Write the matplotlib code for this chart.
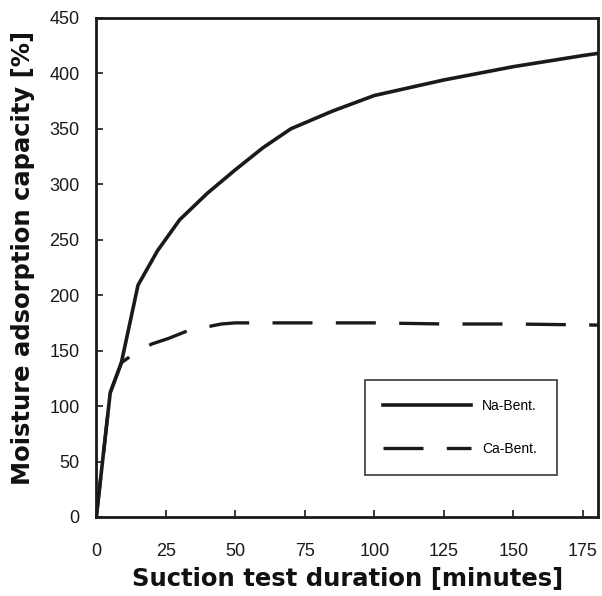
import matplotlib
matplotlib.use("Agg")
import matplotlib.pyplot as plt

plt.rcParams['font.family'] = ['Liberation Sans', 'DejaVu Sans']

na_x = [0, 5, 9, 15, 22, 30, 40, 50, 60, 70, 85, 100, 125, 150, 175, 180.5]
na_y = [0, 112, 139, 209, 240, 268, 292, 313, 333, 350, 366, 380, 394, 406, 416, 418]

ca_x = [0, 5, 9, 14.5, 20, 26, 33, 39, 45, 50, 75, 100, 125, 150, 180.5]
ca_y = [0, 112, 139, 149, 156, 161, 168, 171, 174, 175, 175, 175, 174, 174, 173]

xticks = [0, 25, 50, 75, 100, 125, 150, 175]
yticks = [0, 50, 100, 150, 200, 250, 300, 350, 400, 450]

fig = plt.figure(figsize=(6.02, 5.96), dpi=100)
ax = fig.add_axes([0.160, 0.1326, 0.8334, 0.8374])

ax.plot(ca_x, ca_y, color='#1a1a1a', lw=2.4, dashes=(12, 7), label='Ca-Bent.')
ax.plot(na_x, na_y, color='#1a1a1a', lw=2.6, label='Na-Bent.')

ax.set_xlim(0, 180.5)
ax.set_ylim(0, 450)
ax.set_xticks(xticks)
ax.set_yticks(yticks)
ax.tick_params(direction='in', length=5, width=1.2, labelsize=13, colors='#1a1a1a')
ax.tick_params(axis='x', pad=19)
ax.tick_params(axis='y', pad=12)
for s in ax.spines.values():
    s.set_linewidth(2.0)
    s.set_color('#1a1a1a')

ax.set_xlabel('Suction test duration [minutes]', labelpad=5, family=['DejaVu Sans'],
              fontsize=17.5, fontweight='bold', color='#111111')
ax.set_ylabel('Moisture adsorption capacity [%]', family=['DejaVu Sans'],
              fontsize=17.5, fontweight='bold', color='#111111')
ax.yaxis.set_label_coords(-0.123, 0.52)

h, l = ax.get_legend_handles_labels()
leg = ax.legend([h[1], h[0]], [l[1], l[0]], loc='upper left',
                bbox_to_anchor=(0.535, 0.2745, 0.383, 0.0), mode='expand',
                borderaxespad=0.0,
                fontsize=10, handlelength=6.3, labelspacing=2.1,
                borderpad=1.35, fancybox=False, frameon=True, handletextpad=0.8)
leg.get_frame().set_edgecolor('#1a1a1a')
leg.get_frame().set_linewidth(1.3)

fig.savefig('out.png', dpi=100)
